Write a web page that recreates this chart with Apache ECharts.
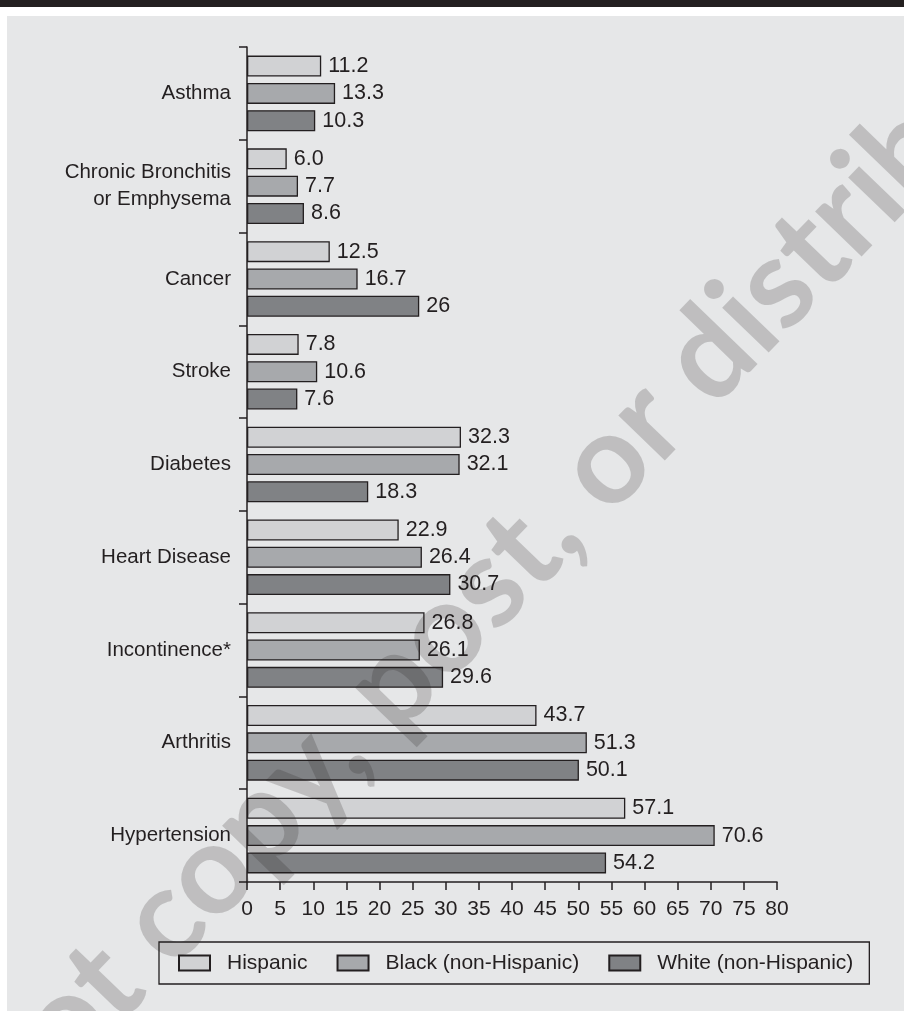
<!DOCTYPE html>
<html>
<head>
<meta charset="utf-8">
<script src="https://cdn.jsdelivr.net/npm/echarts@6/dist/echarts.min.js"></script>
<style>
  html, body { margin: 0; padding: 0; background: #ffffff; }
  #chart { width: 904px; height: 1011px; }
</style>
</head>
<body>
<div id="chart"></div>
<script>
// Chronic conditions by group (percent)
const categories = [
  'Asthma',
  'Chronic Bronchitis\nor Emphysema',
  'Cancer',
  'Stroke',
  'Diabetes',
  'Heart Disease',
  'Incontinence*',
  'Arthritis',
  'Hypertension'
];
const seriesNames = ['Hispanic', 'Black (non-Hispanic)', 'White (non-Hispanic)'];
const hispanic = ['11.2', '6.0', '12.5', '7.8', '32.3', '22.9', '26.8', '43.7', '57.1'];
const black    = ['13.3', '7.7', '16.7', '10.6', '32.1', '26.4', '26.1', '51.3', '70.6'];
const white    = ['10.3', '8.6', '26', '7.6', '18.3', '30.7', '29.6', '50.1', '54.2'];
const xMin = 0, xMax = 80, xStep = 5;

const ink = '#231f20';
const fills = ['#d1d2d4', '#a7a9ac', '#808285'];
const font = 'Liberation Sans';

function barSeries(name, values, fill) {
  return {
    type: 'bar',
    name: name,
    data: values.map(Number),
    barWidth: 21,
    barGap: '30%',
    itemStyle: { color: fill, borderColor: ink, borderWidth: 1.3 },
    label: {
      show: true,
      position: 'right',
      distance: 7,
      color: ink,
      fontFamily: font,
      fontSize: 21.5,
      formatter: p => values[p.dataIndex]
    }
  };
}

const chart = echarts.init(document.getElementById('chart'), null, { renderer: 'canvas' });
chart.setOption({
  animation: false,
  backgroundColor: '#ffffff',
  graphic: [
    { type: 'rect', z: -10, silent: true, shape: { x: 0, y: 0, width: 904, height: 7 }, style: { fill: ink } },
    { type: 'rect', z: -10, silent: true, shape: { x: 7, y: 16, width: 897, height: 995 }, style: { fill: '#e6e7e8' } },
    {
      // diagonal notice across the plot
      type: 'text', z: 100, silent: true,
      x: 456, y: 618, rotation: 46 * Math.PI / 180,
      style: {
        text: 'Do not copy, post, or distribute',
        fill: 'rgba(35,31,32,0.2)',
        fontFamily: 'Lato', fontWeight: 'bold', fontSize: 126,
        align: 'center', verticalAlign: 'middle'
      }
    }
  ],
  grid: { left: 247, right: 127, top: 47, bottom: 129, containLabel: false },
  legend: {
    left: 159, top: 942,
    padding: [10, 16, 10, 19],
    borderColor: ink, borderWidth: 1.3,
    itemWidth: 31, itemHeight: 15, itemGap: 29,
    icon: 'rect',
    textStyle: { color: ink, fontFamily: font, fontSize: 21, lineHeight: 22, padding: [0, 0, 0, 12] },
    data: seriesNames
  },
  xAxis: {
    type: 'value',
    min: xMin, max: xMax, interval: xStep,
    axisLine: { show: true, lineStyle: { color: ink, width: 1.5 } },
    axisTick: { show: true, length: 8, lineStyle: { color: ink, width: 1.5 } },
    axisLabel: { color: ink, fontFamily: font, fontSize: 21, margin: 17 },
    splitLine: { show: false }
  },
  yAxis: {
    type: 'category',
    inverse: true,
    data: categories,
    axisLine: { show: true, lineStyle: { color: ink, width: 1.5 } },
    axisTick: { show: true, length: 8, alignWithLabel: false, lineStyle: { color: ink, width: 1.5 } },
    axisLabel: { color: ink, fontFamily: font, fontSize: 20.5, lineHeight: 27, margin: 16, align: 'right' }
  },
  series: [
    barSeries(seriesNames[0], hispanic, fills[0]),
    barSeries(seriesNames[1], black, fills[1]),
    barSeries(seriesNames[2], white, fills[2])
  ]
});
</script>
</body>
</html>
